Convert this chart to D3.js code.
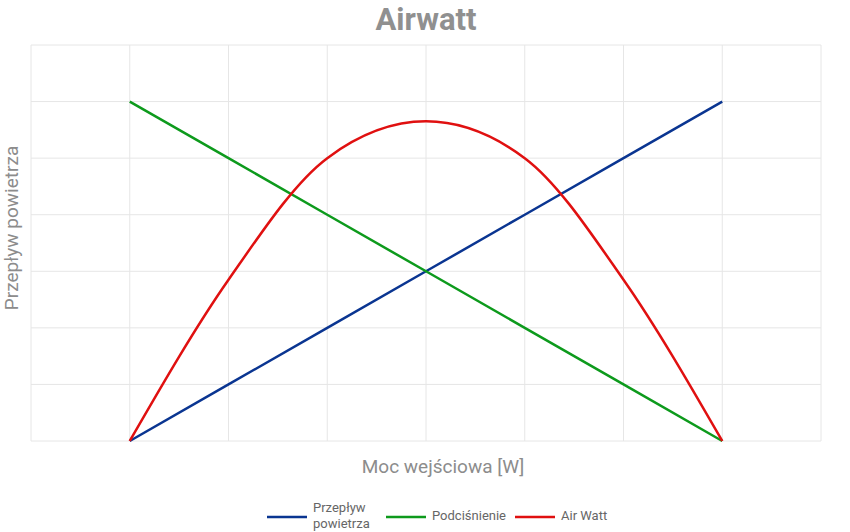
<!DOCTYPE html>
<html><head><meta charset="utf-8">
<script src="https://cdn.jsdelivr.net/npm/d3@7"></script>
<style>body{margin:0;background:#fff;font-family:Roboto,sans-serif}</style>
</head><body><svg id="c" width="850" height="532"></svg>
<script>
const xCats=[0,1,2,3,4,5,6,7,8];
const blueX=[1,2,3,4,5,6,7], blueY=[0,1,2,3,4,5,6];
const greenX=[1,2,3,4,5,6,7], greenY=[6,5,4,3,2,1,0];
const redX=[1,2,3,4,5,6,7], redY=[0,2.85,5.0,5.65,5.0,2.85,0];
const yTicks=[0,1,2,3,4,5,6,7];
const svg=d3.select("#c");
const x=d3.scaleLinear().domain([0,8]).range([31,821]);
const y=d3.scaleLinear().domain([0,7]).range([441,45]);
svg.append("g").selectAll("line").data(yTicks).join("line")
 .attr("x1",31).attr("x2",821).attr("y1",d=>y(d)).attr("y2",d=>y(d)).attr("stroke","#e6e6e6");
svg.append("g").selectAll("line").data(xCats).join("line")
 .attr("y1",45).attr("y2",441).attr("x1",d=>x(d)).attr("x2",d=>x(d)).attr("stroke","#e6e6e6");
function draw(xs,ys,c,curve){
 svg.append("path").datum(xs.map((v,i)=>[v,ys[i]])).attr("fill","none").attr("stroke",c).attr("stroke-width",2.5)
  .attr("d",d3.line().x(d=>x(d[0])).y(d=>y(d[1])).curve(curve));
}
draw(blueX,blueY,"#0a3591",d3.curveLinear);
draw(greenX,greenY,"#0d9a1c",d3.curveLinear);
draw(redX,redY,"#e01010",d3.curveMonotoneX);
svg.append("text").attr("x",426).attr("y",30).attr("text-anchor","middle").attr("font-size",31).attr("font-weight","bold").attr("fill","#909090").text("Airwatt");
svg.append("text").attr("transform","translate(18,228) rotate(-90)").attr("text-anchor","middle").attr("font-size",19).attr("fill","#8c8c8c").text("Przepływ powietrza");
svg.append("text").attr("x",443).attr("y",473).attr("text-anchor","middle").attr("font-size",19).attr("fill","#8c8c8c").text("Moc wejściowa [W]");
const leg=[{n:["Przepływ","powietrza"],c:"#0a3591",x:267},{n:["Podciśnienie"],c:"#0d9a1c",x:386},{n:["Air Watt"],c:"#e01010",x:515}];
leg.forEach(l=>{
 svg.append("line").attr("x1",l.x).attr("x2",l.x+40).attr("y1",517).attr("y2",517).attr("stroke",l.c).attr("stroke-width",2.5);
 const t=svg.append("text").attr("x",l.x+46).attr("font-size",13).attr("fill","#666");
 if(l.n.length==2){t.append("tspan").attr("x",l.x+46).attr("y",512).text(l.n[0]);t.append("tspan").attr("x",l.x+46).attr("y",528).text(l.n[1]);}
 else t.attr("y",520).text(l.n[0]);
});
</script></body></html>
